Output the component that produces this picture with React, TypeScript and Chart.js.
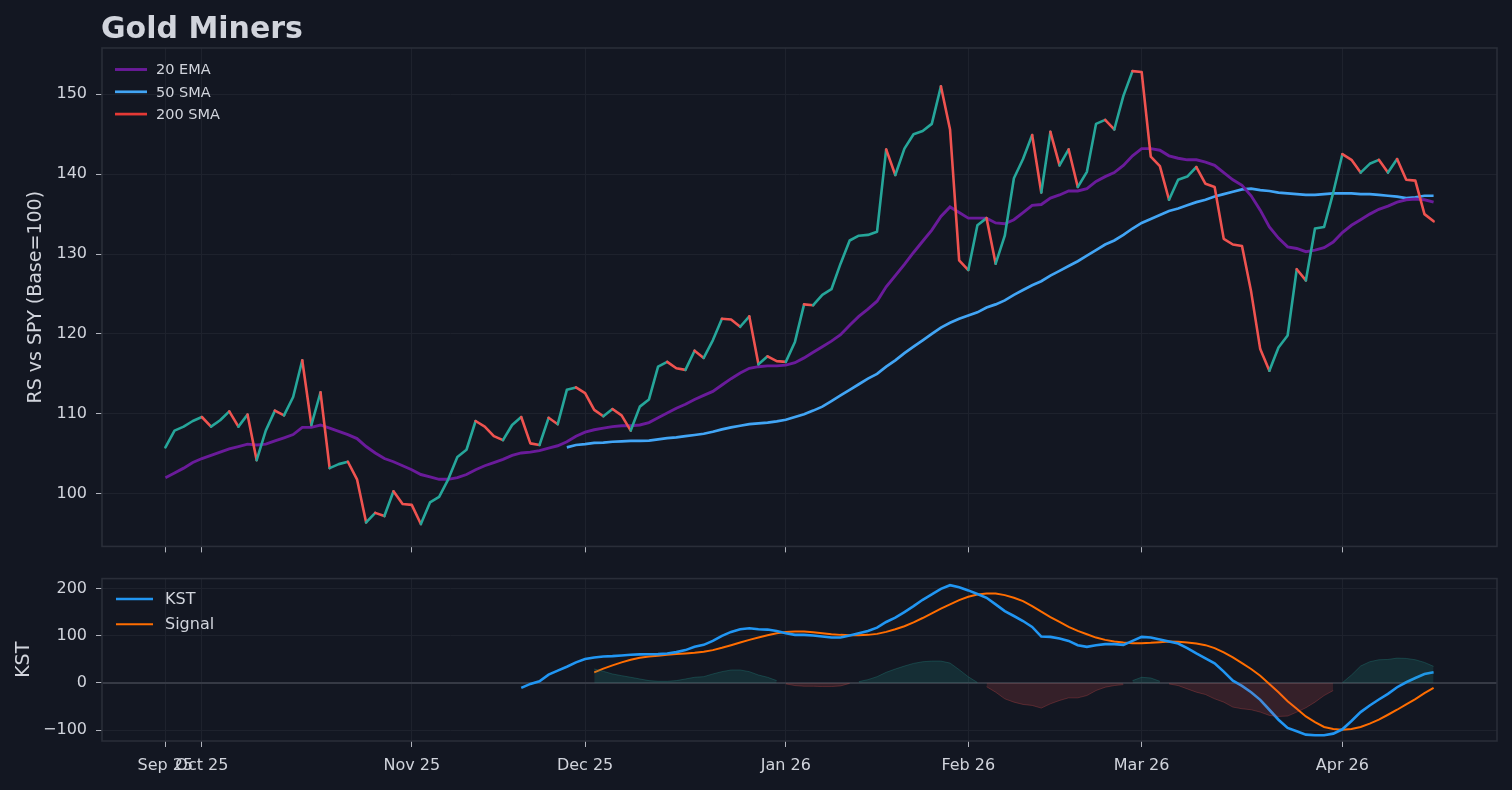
import React, { useEffect, useRef } from 'react';
import { Chart, registerables } from 'chart.js';

Chart.register(...registerables);

const BG = '#131722';
const FRAME = '#2a2e39';
const GRID = '#1e222d';
const TEXT = '#d1d4dc';
const TICKMARK = '#b2b5be';
const TEAL = '#26a69a';
const RED = '#ef5350';
const EMA_C = '#6a1b9a';
const SMA_C = '#42a5f5';
const SMA200_C = '#e53935';
const KST_C = '#2196f3';
const SIG_C = '#ff6d00';
const FONT = '"DejaVu Sans", "Liberation Sans", sans-serif';

// trading-day index of each month tick and its label
const tickIndex = [0, 4, 27, 46, 68, 88, 107, 129];
const tickLabels = ['Sep 25', 'Oct 25', 'Nov 25', 'Dec 25', 'Jan 26', 'Feb 26', 'Mar 26', 'Apr 26'];
const priceTicks = [100, 110, 120, 130, 140, 150];
const kstTicks = [-100, 0, 100, 200];

const price = [
  105.8, 107.9, 108.4, 109.1, 109.6, 108.4, 109.2, 110.3, 108.4, 109.9,
  104.2, 107.9, 110.4, 109.8, 112.1, 116.7, 108.6, 112.7, 103.2, 103.7,
  104.0, 101.8, 96.4, 97.6, 97.2, 100.3, 98.7, 98.6, 96.2, 98.9,
  99.6, 101.8, 104.6, 105.5, 109.1, 108.4, 107.2, 106.7, 108.6, 109.6,
  106.3, 106.1, 109.5, 108.7, 113.0, 113.3, 112.6, 110.5, 109.7, 110.6,
  109.8, 107.9, 110.9, 111.8, 115.9, 116.5, 115.7, 115.5, 117.9, 117.0,
  119.2, 121.9, 121.8, 120.9, 122.2, 116.2, 117.2, 116.6, 116.5, 119.0,
  123.7, 123.6, 124.9, 125.6, 128.8, 131.7, 132.3, 132.4, 132.8, 143.1,
  139.9, 143.2, 145.0, 145.4, 146.3, 151.0, 145.6, 129.2, 128.0, 133.6,
  134.5, 128.8, 132.3, 139.5, 141.9, 144.9, 137.7, 145.3, 141.1, 143.1,
  138.4, 140.3, 146.3, 146.8, 145.6, 149.8, 152.9, 152.8, 142.2, 141.0,
  136.8, 139.3, 139.7, 140.9, 138.8, 138.4, 131.9, 131.2, 131.0, 125.3,
  118.1, 115.4, 118.3, 119.8, 128.1, 126.7, 133.2, 133.4, 137.7, 142.5,
  141.8, 140.2, 141.3, 141.8, 140.2, 141.9, 139.3, 139.2, 135.0, 134.1,
];

const ema20 = [
  102.0, 102.6, 103.2, 103.9, 104.4, 104.8, 105.2, 105.6, 105.9, 106.2,
  106.1, 106.2, 106.6, 107.0, 107.4, 108.3, 108.3, 108.6, 108.2, 107.8,
  107.4, 106.9, 105.9, 105.1, 104.4, 104.0, 103.5, 103.0, 102.4, 102.1,
  101.8, 101.8, 102.0, 102.4, 103.0, 103.5, 103.9, 104.3, 104.8, 105.1,
  105.2, 105.4, 105.7, 106.0, 106.5, 107.2, 107.7, 108.0, 108.2, 108.4,
  108.5, 108.5, 108.6, 108.9, 109.5, 110.1, 110.7, 111.2, 111.8, 112.3,
  112.8, 113.6, 114.4, 115.1, 115.7, 115.9, 116.0, 116.0, 116.1, 116.4,
  117.0, 117.7, 118.4, 119.1, 119.9, 121.1, 122.2, 123.1, 124.1, 125.9,
  127.3, 128.7, 130.2, 131.6, 133.0, 134.7, 135.9, 135.2, 134.5, 134.5,
  134.5, 133.9, 133.8, 134.3, 135.2, 136.1, 136.2, 137.0, 137.4, 137.9,
  137.9, 138.2, 139.1, 139.7, 140.2, 141.1, 142.3, 143.2, 143.2, 143.0,
  142.3, 142.0, 141.8, 141.8, 141.5, 141.1, 140.2, 139.3, 138.6, 137.3,
  135.5, 133.4, 132.0, 130.9, 130.7, 130.3, 130.5, 130.8, 131.5, 132.7,
  133.6, 134.3, 135.0, 135.6, 136.0, 136.5, 136.8, 136.9, 136.8, 136.5,
];

const sma50 = [
  ...Array(44).fill(null),
  105.8, 106.1, 106.2, 106.35, 106.4, 106.5,
  106.55, 106.6, 106.6, 106.65, 106.8, 106.95, 107.05, 107.2, 107.35, 107.5,
  107.75, 108.05, 108.3, 108.5, 108.7, 108.8, 108.9, 109.05, 109.25, 109.6,
  109.95, 110.4, 110.9, 111.6, 112.3, 113.0, 113.7, 114.4, 115.0, 115.9,
  116.7, 117.6, 118.4, 119.2, 120.0, 120.8, 121.4, 121.9, 122.3, 122.7,
  123.3, 123.7, 124.2, 124.9, 125.5, 126.1, 126.6, 127.3, 127.9, 128.5,
  129.1, 129.8, 130.5, 131.2, 131.7, 132.4, 133.2, 133.9, 134.4, 134.9,
  135.4, 135.7, 136.1, 136.5, 136.8, 137.2, 137.5, 137.8, 138.1, 138.2,
  138.0, 137.9, 137.7, 137.6, 137.5, 137.4, 137.4, 137.5, 137.6, 137.6,
  137.6, 137.5, 137.5, 137.4, 137.3, 137.2, 137.0, 137.1, 137.3, 137.3,
];

const sma200 = Array(140).fill(null);

const kst = [
  ...Array(39).fill(null),
  -10.5,
  -2.1, 3.5, 17.5, 26.0, 34.4, 43.5, 50.5, 54.0, 56.1, 56.8,
  58.2, 59.6, 60.4, 60.6, 61.1, 62.5, 65.3, 69.5, 76.5, 80.7,
  89.1, 99.6, 108.1, 113.7, 115.8, 113.7, 113.0, 110.2, 105.3, 101.8,
  101.8, 100.4, 98.2, 96.1, 96.1, 100.5, 105.3, 110.2, 117.2, 129.1,
  138.2, 150.2, 162.8, 176.1, 187.4, 199.3, 207.0, 202.8, 196.0, 188.4,
  180.4, 166.3, 152.3, 141.8, 131.2, 118.6, 98.2, 97.5, 94.0, 89.1,
  80.0, 76.5, 80.0, 82.1, 82.1, 80.7, 89.1, 97.5, 96.1, 91.9,
  87.7, 83.5, 73.7, 62.5, 51.9, 41.4, 23.9, 4.9, -6.3, -19.6,
  -35.8, -56.8, -77.9, -95.4, -102.5, -109.5, -110.9, -110.9, -107.4, -98.2,
  -80.7, -61.8, -47.7, -35.1, -23.2, -9.1, 1.4, 10.5, 18.9, 22.5,
];

const signal = [
  ...Array(47).fill(null),
  22.5, 30.2, 37.2,
  43.5, 49.1, 53.3, 56.1, 57.5, 59.6, 61.1, 62.5, 64.0, 66.0,
  69.5, 74.4, 80.0, 85.6, 91.2, 96.1, 101.1, 105.3, 108.1, 108.8,
  108.8, 107.4, 105.3, 103.2, 101.8, 101.1, 101.1, 101.8, 103.9, 108.1,
  113.7, 120.0, 128.4, 137.5, 147.4, 157.2, 166.3, 175.4, 182.5, 187.4,
  189.5, 189.5, 186.0, 180.4, 173.3, 162.8, 150.9, 139.6, 129.1, 118.6,
  110.2, 103.2, 96.1, 91.2, 87.7, 85.6, 84.2, 84.2, 84.9, 86.3,
  87.7, 87.0, 85.6, 83.5, 80.0, 73.7, 64.6, 54.0, 42.1, 29.5,
  15.4, -2.1, -19.6, -38.6, -54.7, -70.9, -82.8, -93.3, -97.5, -98.9,
  -97.5, -93.3, -86.3, -77.9, -67.4, -56.8, -45.6, -34.4, -21.8, -10.5,
];

const histogram = [
  ...Array(47).fill(null),
  29.5, 24.6, 19.0,
  15.4, 12.0, 8.4, 4.9, 3.5, 3.5, 4.9, 8.4, 12.0, 13.3,
  19.0, 23.9, 27.4, 27.4, 23.9, 16.8, 12.0, 4.9, -2.1, -5.6,
  -7.0, -7.0, -7.7, -7.7, -6.3, -1.0, 2.8, 7.0, 13.3, 22.5,
  29.5, 35.8, 41.4, 44.9, 46.3, 46.3, 42.1, 28.1, 13.0, 1.0,
  -8.0, -19.6, -33.7, -40.7, -45.6, -47.7, -53.3, -44.2, -37.2, -31.6,
  -31.6, -26.7, -16.1, -9.1, -5.6, -3.5, 4.9, 12.0, 10.5, 3.5,
  -2.1, -5.6, -12.6, -19.6, -24.6, -33.7, -40.7, -51.2, -54.7, -56.8,
  -61.8, -68.8, -71.0, -70.2, -61.8, -52.6, -40.7, -26.7, -16.1, 0.5,
  16.8, 35.8, 44.9, 49.1, 49.8, 52.6, 51.9, 49.1, 43.5, 35.1,
];

const indexLabels = price.map((_, i) => i);

const framePlugin = {
  id: 'frame',
  beforeDatasetsDraw(chart: any, _args: any, opts: any) {
    if (!opts || !opts.zeroLine) return;
    const { ctx, chartArea } = chart;
    const y = chart.scales.y.getPixelForValue(0);
    ctx.save();
    ctx.strokeStyle = '#363a45';
    ctx.lineWidth = 2;
    ctx.beginPath();
    ctx.moveTo(chartArea.left, y);
    ctx.lineTo(chartArea.right, y);
    ctx.stroke();
    ctx.restore();
  },
  afterDatasetsDraw(chart: any) {
    const { ctx, chartArea } = chart;
    ctx.save();
    ctx.strokeStyle = FRAME;
    ctx.lineWidth = 1.6;
    ctx.strokeRect(chartArea.left, chartArea.top, chartArea.right - chartArea.left, chartArea.bottom - chartArea.top);
    ctx.restore();
  },
};

const insideLegend = {
  id: 'insideLegend',
  afterDraw(chart: any, _args: any, opts: any) {
    if (!opts || !opts.display) return;
    const ctx = chart.ctx;
    const items = chart.data.datasets.filter((d: any) => d.inLegend);
    ctx.save();
    ctx.font = `${opts.size}px ${FONT}`;
    ctx.textBaseline = 'middle';
    ctx.textAlign = 'left';
    items.forEach((d: any, k: number) => {
      const y = opts.y + k * opts.gap;
      ctx.strokeStyle = d.legendColor || d.borderColor;
      ctx.lineWidth = d.borderWidth;
      ctx.beginPath();
      ctx.moveTo(opts.x0, y);
      ctx.lineTo(opts.x1, y);
      ctx.stroke();
      ctx.fillStyle = TEXT;
      ctx.fillText(d.label, opts.tx, y + 1);
    });
    ctx.restore();
  },
};

const titlePlugin = {
  id: 'bigTitle',
  afterDraw(chart: any, _args: any, opts: any) {
    if (!opts || !opts.text) return;
    const ctx = chart.ctx;
    ctx.save();
    ctx.font = `bold 30px ${FONT}`;
    ctx.fillStyle = TEXT;
    ctx.textBaseline = 'alphabetic';
    ctx.textAlign = 'left';
    ctx.fillText(opts.text, opts.x, opts.y);
    ctx.restore();
  },
};

function makeX(showLabels: boolean, height: number) {
  return {
    type: 'linear',
    min: -6.95,
    max: 145.95,
    afterBuildTicks: (s: any) => {
      s.ticks = tickIndex.map((v) => ({ value: v }));
    },
    afterFit: (s: any) => {
      s.height = height;
    },
    ticks: {
      autoSkip: false,
      maxRotation: 0,
      minRotation: 0,
      padding: 9,
      color: showLabels ? TEXT : 'rgba(0,0,0,0)',
      font: { size: 16, family: FONT },
      callback: (v: any) => {
        const k = tickIndex.indexOf(Number(v));
        return k >= 0 ? tickLabels[k] : '';
      },
    },
    grid: { color: GRID, lineWidth: 1, drawTicks: true, tickLength: 6, tickColor: TICKMARK, tickWidth: 1 },
    border: { display: false },
  };
}

function makeY(min: number, max: number, ticks: number[], title: string, titlePad: number) {
  return {
    type: 'linear',
    min,
    max,
    afterBuildTicks: (s: any) => {
      s.ticks = ticks.map((v) => ({ value: v }));
    },
    afterFit: (s: any) => {
      s.width = 102;
    },
    ticks: {
      padding: 9,
      color: TEXT,
      font: { size: 16, family: FONT },
      callback: (v: any) => String(v).replace('-', '\u2212'),
    },
    grid: { color: GRID, lineWidth: 1, drawTicks: true, tickLength: 6, tickColor: TICKMARK, tickWidth: 1 },
    border: { display: false },
    title: {
      display: true,
      text: title,
      color: TEXT,
      font: { size: 19, family: FONT },
      padding: { top: titlePad, bottom: 0 },
    },
  };
}

export default function App() {
  const topRef = useRef<HTMLCanvasElement | null>(null);
  const botRef = useRef<HTMLCanvasElement | null>(null);

  useEffect(() => {
    Chart.defaults.font.family = FONT;
    Chart.defaults.color = TEXT;

    const top = new Chart(topRef.current as HTMLCanvasElement, {
      type: 'line',
      data: {
        labels: indexLabels,
        datasets: [
          {
            label: 'RS',
            data: price,
            borderColor: TEAL,
            borderWidth: 2.6,
            pointRadius: 0,
            tension: 0,
            borderCapStyle: 'round',
            borderJoinStyle: 'round',
            segment: {
              borderColor: (c: any) => (c.p1.parsed.y < c.p0.parsed.y ? RED : TEAL),
            },
          } as any,
          {
            label: '20 EMA',
            data: ema20,
            borderColor: EMA_C,
            borderWidth: 2.9,
            pointRadius: 0,
            tension: 0,
            inLegend: true,
          } as any,
          {
            label: '50 SMA',
            data: sma50,
            borderColor: SMA_C,
            borderWidth: 2.7,
            pointRadius: 0,
            tension: 0,
            inLegend: true,
          } as any,
          {
            label: '200 SMA',
            data: sma200,
            borderColor: SMA200_C,
            borderWidth: 2.7,
            pointRadius: 0,
            tension: 0,
            inLegend: true,
          } as any,
        ],
      },
      options: {
        responsive: false,
        animation: false,
        layout: { padding: { top: 48, right: 15, left: 0, bottom: 0 } },
        scales: {
          x: makeX(false, 17) as any,
          y: makeY(93.4, 155.8, priceTicks, 'RS vs SPY (Base=100)', 25) as any,
        },
        plugins: {
          legend: { display: false },
          tooltip: { enabled: false },
          insideLegend: { display: true, size: 14.5, x0: 115, x1: 147, tx: 156, y: 69.5, gap: 22.3 },
          bigTitle: { text: 'Gold Miners', x: 101, y: 38 },
          frame: {},
        } as any,
      },
      plugins: [framePlugin, insideLegend, titlePlugin],
    });

    const histPos = histogram.map((v) => (v !== null && v >= 0 ? v : null));
    const histNeg = histogram.map((v) => (v !== null && v < 0 ? v : null));

    const bot = new Chart(botRef.current as HTMLCanvasElement, {
      type: 'line',
      data: {
        labels: indexLabels,
        datasets: [
          {
            label: 'histPos',
            data: histPos,
            borderColor: 'rgba(38,166,154,0.25)',
            backgroundColor: 'rgba(38,166,154,0.16)',
            borderWidth: 1,
            pointRadius: 0,
            tension: 0,
            fill: 'origin',
            spanGaps: false,
          } as any,
          {
            label: 'histNeg',
            data: histNeg,
            borderColor: 'rgba(239,83,80,0.25)',
            backgroundColor: 'rgba(239,83,80,0.16)',
            borderWidth: 1,
            pointRadius: 0,
            tension: 0,
            fill: 'origin',
            spanGaps: false,
          } as any,
          {
            label: 'KST',
            data: kst,
            borderColor: KST_C,
            borderWidth: 2.6,
            pointRadius: 0,
            tension: 0,
            inLegend: true,
          } as any,
          {
            label: 'Signal',
            data: signal,
            borderColor: SIG_C,
            borderWidth: 2.0,
            pointRadius: 0,
            tension: 0,
            inLegend: true,
          } as any,
        ],
      },
      options: {
        responsive: false,
        animation: false,
        layout: { padding: { top: 16, right: 15, left: 0, bottom: 0 } },
        scales: {
          x: makeX(true, 49) as any,
          y: makeY(-123, 221, kstTicks, 'KST', 12.5) as any,
        },
        plugins: {
          legend: { display: false },
          tooltip: { enabled: false },
          insideLegend: { display: true, size: 16, x0: 116, x1: 153, tx: 165, y: 39, gap: 25.3 },
          frame: { zeroLine: true },
        } as any,
      },
      plugins: [framePlugin, insideLegend],
    });

    return () => {
      top.destroy();
      bot.destroy();
    };
  }, []);

  return (
    <div
      style={{
        position: 'fixed',
        left: 0,
        top: 0,
        width: 1512,
        height: 790,
        background: BG,
        overflow: 'hidden',
      }}
    >
      <canvas ref={topRef} width={1512} height={565} style={{ position: 'absolute', left: 0, top: 0 }} />
      <canvas ref={botRef} width={1512} height={230} style={{ position: 'absolute', left: 0, top: 560 }} />
    </div>
  );
}
